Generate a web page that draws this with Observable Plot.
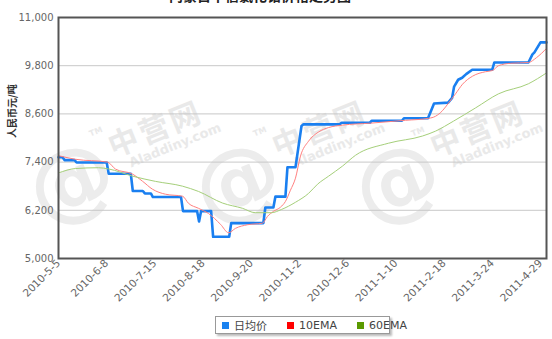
<!DOCTYPE html>
<html><head><meta charset="utf-8">
<script src="https://cdn.jsdelivr.net/npm/d3@7"></script>
<script src="https://cdn.jsdelivr.net/npm/@observablehq/plot@0.6"></script>
<style>
body{margin:0;background:#fff;}
#wrap{position:relative;width:552px;height:339px;overflow:hidden;}
#title{position:absolute;top:-15px;left:0;width:520px;text-align:center;font:bold 14px "Noto Sans CJK SC",sans-serif;color:#222;white-space:nowrap;}
#chart{position:absolute;top:0;left:0;}
#legend{position:absolute;left:215px;top:316px;width:173px;height:16px;border:1px solid #999;box-shadow:2px 2px 2px #bbb;background:#fff;font:11px "DejaVu Sans","Noto Sans CJK SC",sans-serif;color:#444;display:flex;align-items:center;white-space:nowrap;}
.item{display:flex;align-items:center;margin-left:6px;white-space:nowrap;}
.sw{width:7px;height:7px;margin-right:5px;flex:none;}
.wm{position:absolute;color:#e9e9e9;white-space:nowrap;transform-origin:left top;transform:rotate(-22deg);}
.wm .cn{font:bold 30px "Noto Sans CJK SC",sans-serif;letter-spacing:3px;}
.wm .en{font:bold 13px "DejaVu Sans",sans-serif;display:block;margin-left:26px;margin-top:-5px;}
.wm .tm{font:bold 8px "DejaVu Sans",sans-serif;vertical-align:top;}
.logo{position:absolute;color:#ececec;font:bold 86px "DejaVu Sans",sans-serif;transform:rotate(-22deg);transform-origin:left top;}
</style></head>
<body>
<div id="wrap">
  <div id="chart"></div>
  <div id="title"></div>
  <div id="legend"></div>
</div>
<script>
const titleText = "内蒙古中信氯化铬价格走势图";
const yAxisLabel = "人民币元/吨";
const watermarkCn = "中营网";
const watermarkEn = "Aladdiny.com";
const yTicks = [5000, 6200, 7400, 8600, 9800, 11000];
const xTickIdx = [0, 24, 48, 72, 96, 120, 144, 168, 192, 216, 240];
const xTickLabels = ["2010-5-5","2010-6-8","2010-7-15","2010-8-18","2010-9-20","2010-11-2","2010-12-6","2011-1-10","2011-2-18","2011-3-24","2011-4-29"];
const seriesNames = ["日均价", "10EMA", "60EMA"];
const seriesLegendColors = ["#1a82f0", "#ff0000", "#5a9a00"];

// 日均价 (daily average) vertices: trading-day index, price
const dailyIdx   = [0, 2, 3, 8, 9, 24, 25, 36, 37, 42, 43, 46, 47, 61, 62, 69, 70, 71, 76, 77, 85, 86, 102, 103, 107, 108, 113, 114, 118, 121, 122, 140, 141, 155, 156, 171, 172, 184, 187, 194, 196, 197, 199, 201, 203, 206, 216, 217, 234, 236, 237, 240, 243];
const dailyPrice = [7520, 7520, 7450, 7450, 7390, 7390, 7110, 7110, 6680, 6680, 6620, 6620, 6530, 6530, 6180, 6180, 5920, 6180, 6180, 5540, 5540, 5880, 5880, 6270, 6270, 6540, 6540, 7270, 7270, 8300, 8340, 8340, 8380, 8380, 8430, 8430, 8490, 8490, 8860, 8880, 9000, 9280, 9450, 9500, 9590, 9700, 9700, 9880, 9880, 10080, 10130, 10380, 10380];

// 10EMA
const ema10Idx = [0, 8.5, 24.4, 28.4, 36.9, 41.8, 46.8, 53.3, 61.8, 64.7, 69.7, 74.7, 80.7, 84.7, 88.1, 94.1, 101.6, 104.1, 107.1, 110.6, 113, 115.5, 118, 120.5, 124.5, 129.5, 134.5, 141.4, 155.4, 172.8, 184.3, 187.7, 191.2, 194.2, 197.7, 201.2, 206.2, 212.6, 216.1, 219.1, 225, 234, 238, 243];
const ema10Val = [7560, 7470, 7400, 7225, 7100, 6925, 6725, 6600, 6550, 6375, 6250, 6120, 5850, 5640, 5750, 5840, 5880, 6050, 6175, 6280, 6420, 6700, 7000, 7550, 7920, 8150, 8260, 8320, 8370, 8440, 8490, 8540, 8680, 8870, 9100, 9340, 9540, 9650, 9680, 9800, 9860, 9880, 10000, 10230];

// 60EMA
const ema60Idx = [0, 8.5, 19.9, 24.9, 36.9, 48.3, 61.8, 69.7, 81.7, 91.6, 98, 106, 111, 118, 124.5, 129, 134.5, 141.4, 147.9, 164.3, 181.3, 187.7, 196.7, 207.7, 219.1, 234, 243];
const ema60Val = [7130, 7240, 7260, 7230, 7050, 6920, 6800, 6670, 6380, 6250, 6140, 6140, 6220, 6400, 6620, 6850, 7050, 7300, 7570, 7870, 8050, 8170, 8420, 8750, 9100, 9350, 9620];

const daily = dailyIdx.map((i, k) => ({i, v: dailyPrice[k]}));
const ema10 = ema10Idx.map((i, k) => ({i, v: ema10Val[k]}));
const ema60 = ema60Idx.map((i, k) => ({i, v: ema60Val[k]}));

document.getElementById("title").textContent = titleText;

const wrap = document.getElementById("wrap");
// faint background watermarks (decoration, behind the chart)
[[12, 150, 88, 130], [178, 150, 252, 130], [338, 150, 410, 130]].forEach(([lx, ly, wx, wy]) => {
  const logo = document.createElement("div");
  logo.className = "logo";
  logo.style.left = lx + "px"; logo.style.top = ly + "px";
  logo.textContent = "@";
  wrap.insertBefore(logo, wrap.firstChild);
  const w = document.createElement("div");
  w.className = "wm";
  w.style.left = wx + "px"; w.style.top = wy + "px";
  w.innerHTML = `<span class="tm">TM</span><span class="cn">${watermarkCn}</span><span class="en">${watermarkEn}</span>`;
  wrap.insertBefore(w, wrap.firstChild);
});

const chart = Plot.plot({
  width: 552,
  height: 305,
  marginLeft: 58,
  marginRight: 6,
  marginTop: 17,
  marginBottom: 47,
  style: {fontFamily: "DejaVu Sans, sans-serif", fontSize: "10px", color: "#555", background: "transparent"},
  x: {domain: [0, 243]},
  y: {domain: [5000, 11000]},
  marks: [
    Plot.gridY(yTicks, {stroke: "#c8c8c8", strokeOpacity: 1}),
    Plot.line(daily, {x: "i", y: "v", stroke: "#1a7ff0", strokeWidth: 2.6, strokeLinejoin: "round"}),
    Plot.line(ema10, {x: "i", y: "v", stroke: "#ff8080", strokeWidth: 1, curve: "monotone-x"}),
    Plot.line(ema60, {x: "i", y: "v", stroke: "#a5cf7a", strokeWidth: 1, curve: "monotone-x"}),
    Plot.frame({stroke: "#555", strokeWidth: 2}),
    Plot.axisY({ticks: yTicks, tickFormat: d3.format(","), tickSize: 0, tickPadding: 5, label: null, fill: "#666"}),
    Plot.axisX({ticks: xTickIdx, tickFormat: (d) => xTickLabels[xTickIdx.indexOf(d)], tickRotate: -45, tickSize: 0, tickPadding: 3, label: null, fill: "#666", fontSize: 10.5}),
    Plot.text([yAxisLabel], {frameAnchor: "left", dx: -46, rotate: -90, fontWeight: "bold", fontSize: 10, fill: "#333", fontFamily: "Noto Sans CJK SC"})
  ]
});
document.getElementById("chart").appendChild(chart);

const lg = document.getElementById("legend");
seriesNames.forEach((n, k) => {
  const it = document.createElement("div");
  it.className = "item";
  if (k > 0) it.style.marginLeft = "20px";
  it.innerHTML = `<span class="sw" style="background:${seriesLegendColors[k]}"></span><span>${n}</span>`;
  lg.appendChild(it);
});
</script>
</body></html>
